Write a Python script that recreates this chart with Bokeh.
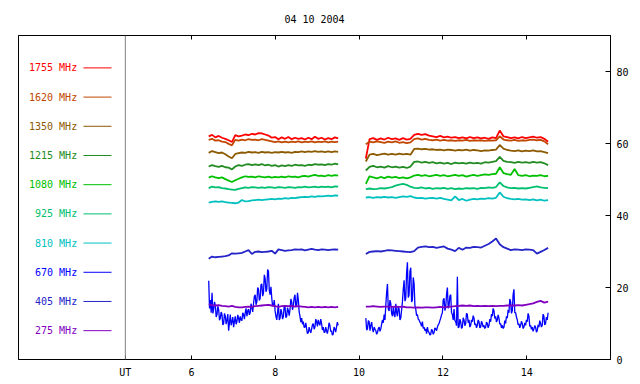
import numpy as np
from bokeh.plotting import figure
from bokeh.models import Range1d, LinearAxis, FixedTicker, Span, ColumnDataSource
from bokeh.core.properties import value
from bokeh.embed import file_html
from bokeh.resources import INLINE

TITLE = "04 10 2004"
X_TICKS = [6, 8, 10, 12, 14]
Y_TICKS = [0, 20, 40, 60, 80]
UT_POS = 4.42
X_MIN, X_MAX = 1.87, 16.0
Y_MIN, Y_MAX = 0, 90

FREQ_LABELS = ["1755 MHz", "1620 MHz", "1350 MHz", "1215 MHz", "1080 MHz",
               "925 MHz", "810 MHz", "670 MHz", "405 MHz", "275 MHz"]
COLORS = ["#ff0000", "#c04800", "#8c5a00", "#228b22", "#00c000",
          "#00c070", "#00c0c0", "#0000ff", "#2424c8", "#8000c0"]

SEG1 = (6.41, 9.50)
SEG2 = (10.16, 14.51)

f1755_a = [62.0, 62.4, 61.7, 62.1, 61.6, 61.3, 60.9, 60.4, 62.3, 62.0, 62.2, 62.5, 62.3, 62.7, 62.5, 62.9, 62.8, 62.5, 62.2, 61.6,
           61.8, 61.2, 61.7, 61.3, 61.8, 61.2, 61.6, 61.3, 61.5, 61.1, 61.6, 61.2, 61.9, 61.3, 61.6, 61.1, 61.5, 61.2, 61.7, 61.4]
f1755_b = [55.8, 61.2, 61.5, 61.0, 61.4, 61.1, 61.6, 61.2, 61.4, 61.0, 61.5, 61.1, 61.3, 62.4, 62.7, 62.4, 62.6, 62.2, 62.0, 61.8,
           62.1, 61.7, 61.9, 61.6, 61.8, 61.5, 61.7, 61.4, 61.8, 61.5, 61.7, 61.4, 61.6, 61.3, 61.7, 61.5, 63.6, 62.0, 61.8, 61.5,
           61.7, 61.4, 61.8, 61.5, 61.7, 61.9, 61.6, 61.8, 61.3, 60.5]

f1620_a = [61.0, 61.3, 60.8, 60.9, 60.5, 60.4, 59.9, 59.5, 61.0, 60.8, 61.1, 60.9, 61.2, 61.0, 61.1, 60.9, 61.2, 61.0, 60.8, 60.6,
           60.4, 60.6, 60.3, 60.5, 60.3, 60.5, 60.4, 60.6, 60.3, 60.5, 60.4, 60.6, 60.3, 60.5, 60.4, 60.6, 60.3, 60.5, 60.4, 60.5]
f1620_b = [59.8, 60.5, 60.3, 60.6, 60.4, 60.2, 60.5, 60.3, 60.6, 60.2, 60.4, 60.1, 60.3, 61.2, 61.4, 61.1, 61.3, 61.0, 60.9, 61.1,
           60.8, 61.0, 60.8, 60.9, 60.7, 60.9, 60.8, 61.0, 60.7, 60.9, 60.8, 60.9, 60.7, 60.9, 60.8, 60.9, 62.0, 61.1, 60.9, 60.8,
           61.0, 60.7, 60.9, 60.8, 61.0, 61.1, 60.9, 61.0, 60.6, 59.8]

f1350_a = [57.4, 57.9, 57.6, 57.3, 57.5, 57.0, 56.4, 55.9, 57.1, 57.3, 57.5, 57.4, 57.7, 57.5, 57.6, 57.4, 57.7, 57.5, 57.6, 57.4,
           57.6, 57.5, 57.7, 57.5, 57.6, 57.4, 57.7, 57.6, 57.8, 57.6, 57.8, 57.7, 57.9, 57.7, 57.8, 57.6, 57.8, 57.6, 57.8, 57.7]
f1350_b = [55.0, 56.9, 57.1, 56.8, 57.0, 57.2, 56.9, 57.1, 56.9, 57.2, 57.0, 57.1, 56.9, 58.5, 58.6, 58.4, 58.5, 58.3, 58.4, 58.2,
           58.3, 58.1, 58.3, 58.2, 58.0, 58.2, 58.1, 58.3, 58.0, 58.2, 58.1, 57.9, 58.1, 58.0, 58.2, 58.3, 59.6, 58.6, 58.2, 58.0,
           57.9, 58.1, 57.8, 58.0, 57.9, 58.1, 57.8, 57.9, 57.6, 57.3]

f1215_a = [53.6, 54.0, 53.7, 53.5, 53.8, 53.4, 53.3, 52.8, 53.6, 54.0, 53.8, 54.1, 54.3, 54.0, 54.2, 54.0, 54.3, 53.9, 54.1, 53.8,
           54.0, 53.6, 53.9, 53.7, 54.0, 53.8, 54.1, 53.9, 54.0, 53.8, 54.1, 54.0, 54.3, 54.1, 54.2, 54.0, 54.3, 54.1, 54.4, 54.2]
f1215_b = [52.5, 53.5, 53.8, 53.4, 53.6, 53.3, 53.7, 53.4, 53.6, 53.3, 53.5, 53.2, 53.6, 54.9, 55.0, 54.7, 54.9, 54.6, 54.8, 54.5,
           54.7, 54.4, 54.6, 54.3, 54.7, 54.5, 54.6, 54.4, 54.7, 54.5, 54.6, 54.4, 54.8, 54.7, 54.9, 55.1, 56.3, 55.2, 54.9, 54.8,
           54.6, 54.9, 54.7, 54.8, 54.6, 54.9, 54.7, 54.8, 54.5, 54.0]

f1080_a = [50.5, 50.9, 50.6, 50.4, 50.6, 50.1, 49.7, 49.3, 49.8, 50.2, 50.6, 50.9, 50.7, 50.8, 50.6, 50.9, 50.7, 50.6, 50.8, 50.5,
           50.7, 50.6, 50.8, 50.6, 50.9, 50.7, 50.8, 50.6, 50.9, 51.0, 50.8, 51.1, 51.3, 51.0, 51.1, 50.9, 51.2, 51.0, 51.2, 51.1]
f1080_b = [48.8, 50.9, 50.6, 50.3, 50.7, 50.4, 50.8, 50.5, 50.7, 50.4, 50.6, 50.3, 50.6, 51.1, 51.3, 51.0, 51.2, 50.9, 51.1, 51.3,
           51.0, 51.2, 50.9, 51.1, 51.3, 51.0, 51.2, 50.8, 51.1, 51.3, 51.0, 51.2, 51.4, 51.3, 51.5, 51.6, 53.4, 51.8, 51.5, 51.3,
           52.9, 51.2, 51.0, 51.2, 50.9, 51.1, 51.0, 51.2, 50.9, 51.0]

f925_a = [47.6, 48.0, 47.8, 47.9, 47.6, 47.5, 47.3, 47.2, 47.1, 47.4, 47.6, 47.8, 47.7, 47.9, 47.8, 47.7, 47.8, 47.7, 47.9, 47.8,
          47.7, 47.9, 47.8, 47.7, 47.9, 47.8, 47.7, 47.9, 47.8, 48.0, 47.8, 47.9, 48.0, 47.8, 48.0, 47.9, 48.0, 47.8, 48.1, 48.0]
f925_b = [47.3, 47.5, 47.3, 47.4, 47.6, 47.5, 47.7, 47.9, 48.3, 48.6, 48.8, 48.5, 48.0, 47.7, 47.6, 47.8, 47.5, 47.7, 47.4, 47.6,
          47.5, 47.7, 47.4, 47.6, 47.3, 47.5, 47.4, 47.6, 47.5, 47.6, 47.4, 47.7, 47.6, 47.8, 47.7, 47.9, 49.2, 48.2, 47.8, 47.6,
          47.7, 47.5, 47.6, 47.5, 47.7, 47.9, 48.1, 47.8, 47.7, 47.6]

f810_a = [43.6, 43.8, 43.9, 43.8, 43.9, 43.7, 43.6, 43.5, 43.4, 43.6, 44.3, 43.9, 44.0, 44.2, 44.3, 44.4, 44.3, 44.4, 44.5, 44.6,
          44.5, 44.7, 44.6, 44.8, 44.7, 44.9, 44.8, 45.0, 45.1, 45.2, 45.1, 45.3, 45.2, 45.4, 45.3, 45.4, 45.5, 45.4, 45.6, 45.5]
f810_b = [45.0, 45.1, 44.9, 45.1, 45.0, 45.2, 45.0, 45.1, 44.9, 45.1, 45.3, 45.2, 45.4, 45.0, 44.8, 44.9, 44.7, 44.8, 44.9, 44.7,
          44.9, 44.6, 44.4, 44.2, 45.3, 44.3, 44.6, 44.1, 44.4, 44.6, 44.5, 44.7, 44.6, 44.8, 44.7, 44.9, 46.4, 45.2, 44.8, 44.6,
          44.5, 44.6, 44.4, 44.5, 44.3, 44.5, 44.2, 44.4, 44.1, 44.3]

f670_a = [21.9, 14.2, 16.5, 13.0, 18.5, 12.8, 14.0, 16.0, 15.0, 11.8, 12.5, 14.8, 13.8, 10.9, 11.5, 13.2, 12.5, 9.6, 10.0, 12.8,
          12.0, 9.8, 11.0, 12.6, 8.0, 10.2, 12.5, 9.5, 10.5, 11.8, 9.0, 10.6, 12.0, 9.8, 10.5, 12.4, 11.5, 10.2, 12.0, 11.0,
          10.8, 13.0, 12.5, 11.2, 13.0, 14.2, 12.0, 13.5, 14.0, 12.4, 13.0, 15.5, 14.5, 13.2, 15.5, 17.5, 18.0, 15.2, 16.0, 20.0,
          19.5, 16.4, 17.0, 20.8, 21.0, 17.6, 18.5, 23.5, 22.5, 18.8, 19.5, 25.0, 24.5, 19.2, 18.0, 20.2, 17.0, 14.8, 15.0, 16.5,
          13.5, 12.0, 11.0, 13.2, 15.5, 11.0, 11.5, 14.0, 13.0, 11.2, 12.0, 15.0, 14.5, 11.6, 12.0, 14.4, 13.5, 12.2, 14.0, 16.8,
          16.0, 13.8, 15.0, 17.2, 18.0, 14.6, 15.0, 18.5, 16.5, 13.2, 12.0, 10.4, 11.5, 9.8, 10.5, 8.9, 9.0, 10.2, 8.5, 7.2,
          7.5, 9.0, 8.0, 7.4, 8.5, 9.6, 10.0, 8.4, 9.0, 11.2, 10.5, 9.2, 11.0, 10.0, 9.5, 11.2, 10.0, 8.2, 9.0, 7.6,
          7.5, 9.0, 8.0, 7.2, 8.5, 10.2, 9.5, 7.8, 8.0, 6.8, 7.0, 9.0, 8.5, 7.6, 9.0, 10.4, 9.5]
f670_b = [11.5, 8.2, 8.5, 10.8, 10.5, 8.0, 9.5, 10.4, 8.5, 7.6, 9.0, 8.4, 8.0, 7.0, 7.5, 8.6, 9.0, 7.8, 8.5, 9.8,
          11.0, 10.2, 12.5, 11.0, 15.0, 18.5, 21.0, 14.0, 13.5, 16.5, 15.5, 12.8, 12.0, 14.6, 12.5, 11.8, 15.5, 13.0, 12.0, 14.8,
          14.0, 11.0, 11.5, 13.8, 16.0, 19.5, 22.0, 16.2, 17.0, 24.0, 27.0, 17.2, 18.0, 24.5, 25.5, 16.0, 16.5, 22.8, 21.0, 15.0,
          14.0, 12.2, 12.5, 11.2, 11.0, 10.4, 10.0, 9.2, 10.5, 8.6, 9.0, 8.0, 8.5, 7.2, 9.0, 7.8, 7.5, 6.8, 7.0, 8.4,
          8.0, 7.0, 7.5, 8.8, 8.5, 8.0, 9.0, 9.6, 10.0, 10.8, 11.5, 12.4, 13.0, 16.5, 17.0, 13.6, 14.5, 18.0, 20.0, 14.2,
          15.0, 17.6, 18.0, 13.0, 12.5, 11.0, 14.0, 10.8, 10.5, 9.4, 23.0, 8.8, 9.0, 11.2, 10.5, 8.6, 9.0, 11.6, 11.0, 9.4,
          10.0, 12.8, 12.5, 10.2, 11.0, 9.0, 9.5, 11.0, 10.5, 12.2, 11.5, 9.6, 10.0, 8.8, 9.5, 11.0, 10.5, 8.8, 9.0, 10.6,
          10.0, 9.0, 9.5, 8.6, 9.0, 10.4, 10.0, 8.8, 9.5, 11.2, 10.5, 12.6, 12.0, 14.2, 13.5, 11.4, 12.0, 10.4, 11.0, 12.4,
          11.5, 9.8, 10.0, 8.8, 9.5, 8.6, 9.0, 10.8, 10.0, 12.0, 11.5, 13.8, 13.0, 16.8, 16.0, 12.8, 13.5, 18.0, 19.5, 13.0,
          13.0, 11.8, 11.0, 9.6, 10.0, 8.8, 9.5, 10.6, 10.0, 8.6, 9.0, 10.2, 9.5, 11.0, 10.5, 12.8, 12.0, 9.2, 9.5, 8.4,
          9.0, 7.8, 8.5, 9.4, 9.0, 7.6, 8.0, 9.6, 9.0, 10.8, 10.0, 9.0, 9.5, 12.6, 12.0, 9.6, 10.0, 11.8, 11.0, 13.0]

f405_a = [28.0, 28.6, 28.4, 28.5, 28.6, 28.7, 28.9, 29.5, 29.4, 29.5, 29.6, 30.0, 30.4, 29.3, 29.9, 30.0, 29.8, 29.9, 30.0, 30.2,
          29.4, 30.6, 30.4, 30.2, 30.3, 30.4, 30.6, 30.5, 30.6, 30.3, 30.5, 30.7, 30.5, 30.4, 30.6, 30.5, 30.4, 30.5, 30.6, 30.5]
f405_b = [29.3, 29.9, 30.0, 30.1, 30.0, 30.2, 30.4, 30.3, 30.2, 30.1, 30.0, 29.9, 29.8, 30.1, 31.1, 31.3, 31.4, 31.2, 31.3, 31.0,
          31.2, 31.4, 30.8, 30.5, 30.1, 31.0, 30.5, 31.1, 31.0, 31.3, 31.2, 31.1, 31.6, 32.1, 32.8, 33.6, 32.0, 31.2, 30.8, 30.4,
          30.6, 30.5, 30.4, 30.6, 30.5, 30.4, 29.4, 29.9, 30.4, 31.0]

f275_a = [15.3, 15.1, 15.0, 15.1, 14.9, 14.8, 14.7, 14.9, 14.6, 14.5, 14.5, 14.6, 14.7, 14.6, 14.8, 14.9, 15.0, 15.1, 15.2, 15.0,
          14.8, 14.6, 14.8, 14.9, 14.8, 14.9, 14.7, 14.8, 14.7, 14.6, 14.5, 14.6, 14.5, 14.6, 14.5, 14.6, 14.5, 14.6, 14.5, 14.6]
f275_b = [14.7, 14.7, 14.8, 14.7, 14.6, 14.7, 14.7, 14.6, 14.7, 14.6, 14.7, 14.5, 14.5, 14.4, 14.5, 14.4, 14.5, 14.5, 14.4, 14.5,
          14.6, 14.5, 14.6, 14.7, 14.8, 14.9, 15.0, 14.9, 15.0, 14.8, 14.9, 14.8, 14.9, 14.8, 14.9, 14.8, 14.9, 14.9, 15.0, 15.0,
          15.0, 15.1, 15.0, 15.2, 15.4, 15.6, 16.0, 16.3, 15.8, 16.1]

SERIES = [(f1755_a, f1755_b), (f1620_a, f1620_b), (f1350_a, f1350_b), (f1215_a, f1215_b),
          (f1080_a, f1080_b), (f925_a, f925_b), (f810_a, f810_b), (f670_a, f670_b),
          (f405_a, f405_b), (f275_a, f275_b)]

# legend layout (data coordinates of the left panel)
LEG_TOP, LEG_STEP = 81.0, 8.11
LEG_TEXT_X = 3.27
LEG_LINE_X0, LEG_LINE_X1 = 3.42, 4.09

FONT = "DejaVu Sans Mono"

p = figure(width=632, height=380, x_range=Range1d(X_MIN, X_MAX), y_range=Range1d(Y_MIN, Y_MAX),
           output_backend="svg", toolbar_location=None, x_axis_type=None, y_axis_type=None,
           min_border_left=18, min_border_right=22, min_border_top=35, min_border_bottom=21,
           title=TITLE)
p.title.align = "center"
p.title.text_font = FONT
p.title.text_font_size = "10px"
p.title.text_font_style = "normal"
p.title.text_color = "black"
p.title.standoff = 21
p.outline_line_color = "black"
p.outline_line_width = 1
p.background_fill_color = "white"
p.border_fill_color = "white"

xb = LinearAxis(ticker=FixedTicker(ticks=[UT_POS] + X_TICKS),
                major_label_overrides={UT_POS: "UT"})
xt = LinearAxis(ticker=FixedTicker(ticks=X_TICKS), major_label_text_font_size="0px",
                major_label_text_color=None, major_label_standoff=0)
yr = LinearAxis(ticker=FixedTicker(ticks=Y_TICKS))
for ax in (xb, xt, yr):
    ax.major_tick_in = 4
    ax.major_tick_out = 0
    ax.minor_tick_line_color = None
    ax.axis_line_color = "black"
    ax.major_tick_line_color = "black"
    ax.major_label_text_font = FONT
xb.major_label_text_color = "black"
yr.major_label_text_color = "black"
xb.major_label_text_font_size = "10px"
xb.major_label_standoff = 7
yr.major_label_text_font_size = "10px"
yr.major_label_standoff = 6
yr.major_tick_in = 5
p.add_layout(xb, "below")
p.add_layout(xt, "above")
p.add_layout(yr, "right")

p.add_layout(Span(location=UT_POS, dimension="height", line_color="#808080", line_width=1))

for (seg_a, seg_b), col in zip(SERIES, COLORS):
    ta = np.linspace(SEG1[0], SEG1[1], len(seg_a))
    tb = np.linspace(SEG2[0], SEG2[1], len(seg_b))
    lw = 1.3 if col == "#0000ff" else 1.8
    p.line(ta, seg_a, line_color=col, line_width=lw)
    p.line(tb, seg_b, line_color=col, line_width=lw)

n = len(FREQ_LABELS)
leg_y = [LEG_TOP - i * LEG_STEP for i in range(n)]
leg = ColumnDataSource(dict(x=[LEG_TEXT_X] * n, x0=[LEG_LINE_X0] * n, x1=[LEG_LINE_X1] * n,
                            y=leg_y, text=FREQ_LABELS, color=COLORS))
p.text(x="x", y="y", text="text", text_color="color", source=leg, text_align="right",
       text_baseline="middle", text_font=value(FONT), text_font_size=value("10px"))
p.segment(x0="x0", y0="y", x1="x1", y1="y", line_color="color", line_width=1, source=leg)

open("out.html", "w").write(file_html(p, INLINE))
